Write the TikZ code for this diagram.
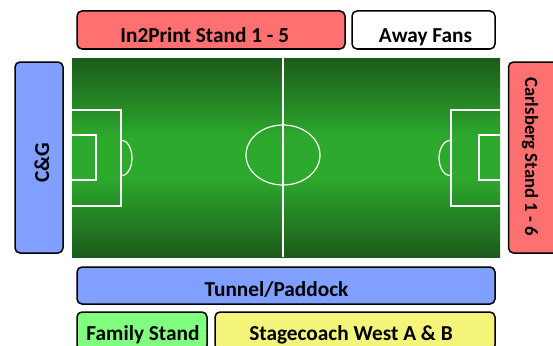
\documentclass[tikz,border=0pt]{standalone}
\usepackage{fontspec}
\setmainfont{Carlito}
\usepackage{xcolor}
\definecolor{standred}{HTML}{FF7070}
\definecolor{standblue}{HTML}{809FFF}
\definecolor{standgreen}{HTML}{80FF80}
\definecolor{standyellow}{HTML}{F4F47A}
\definecolor{pitchdark}{HTML}{1B5A1B}
\definecolor{pitchlight}{HTML}{2DAA2D}
\pgfdeclareverticalshading{pitchshade}{100bp}{color(0bp)=(pitchdark); color(25bp)=(pitchdark); color(45bp)=(pitchlight); color(55bp)=(pitchlight); color(75bp)=(pitchdark); color(100bp)=(pitchdark)}

\begin{document}
\begin{tikzpicture}[x=1pt, y=-1pt,
    stand/.style={rectangle, draw=black, line width=1.5pt, rounded corners=5pt},
    standlabel/.style={font=\fontsize{21.3}{25}\selectfont\bfseries, anchor=base, inner sep=0pt},
    pitchline/.style={draw=white, line width=1.2pt}]
\useasboundingbox (0,0) rectangle (553,345);
\clip (0,0) rectangle (553,345);

% Pitch
\shade[shading=pitchshade] (72,58) rectangle (500,257);
\draw[pitchline] (283,58) -- (283,257);
\draw[pitchline] (283,155) ellipse [x radius=37pt, y radius=30pt];
% Left end
\draw[pitchline] (72,110) -- (121,110) -- (121,206) -- (72,206);
\draw[pitchline] (72,135) -- (96,135) -- (96,180) -- (72,180);
\draw[pitchline] (121,140) arc[start angle=90, end angle=-90, x radius=11pt, y radius=18pt];
% Right end
\draw[pitchline] (500,110) -- (451,110) -- (451,206) -- (500,206);
\draw[pitchline] (500,135) -- (479,135) -- (479,180) -- (500,180);
\draw[pitchline] (451,140) arc[start angle=90, end angle=270, x radius=12pt, y radius=18pt];

% Top stands
\node[stand, fill=standred, minimum width=268, minimum height=38] (in2print) at (211,30) {};
\node[stand, fill=white, minimum width=143, minimum height=38] (away) at (423.5,30) {};
\node[standlabel] (in2printtext) at (204.7,42) {In2Print Stand 1 - 5};
\node[standlabel] (awaytext) at (425.5,42) {Away Fans};

% End stands
\node[stand, fill=standblue, minimum width=48, minimum height=191] (cg) at (39,157.5) {};
\node[stand, fill=standred, minimum width=50, minimum height=191] (carlsberg) at (533.5,157.5) {};
\node[standlabel, rotate=90] (cgtext) at (49,162.5) {C\&G};
\node[standlabel, rotate=-90, font=\fontsize{18.7}{22}\selectfont\bfseries] (carlsbergtext) at (525,156.5) {Carlsberg Stand 1 - 6};

% Bottom stands
\node[stand, fill=standblue, minimum width=418, minimum height=37] (tunnel) at (286,285.5) {};
\node[stand, fill=standgreen, minimum width=130, minimum height=38] (family) at (142,331) {};
\node[stand, fill=standyellow, minimum width=280, minimum height=38] (stagecoach) at (355,331) {};
\node[standlabel] (tunneltext) at (276.5,296) {Tunnel/Paddock};
\node[standlabel] (familytext) at (143,340.5) {Family Stand};
\node[standlabel] (stagecoachtext) at (351,340.5) {Stagecoach West A \& B};

\end{tikzpicture}
\end{document}
